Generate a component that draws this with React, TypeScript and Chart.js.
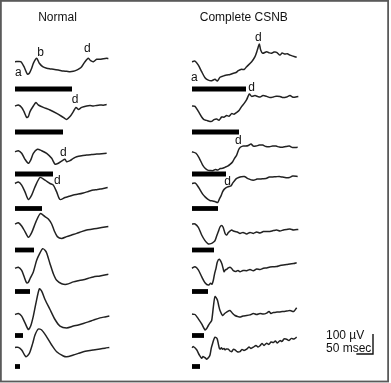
import React, { useEffect, useRef } from "react";
import { Chart, registerables } from "chart.js";

Chart.register(...registerables);

// ---- data: ERG traces, time (ms) vs amplitude (µV), relative to each trace's start ----
const normal1: [number, number][] = [[0,0],[17,0],[27,-25],[37,-62],[43,-58],[50,-33],[55,-8],[65,17],[73,-8],[83,-25],[95,-33],[105,-36],[115,-38],[130,-42],[145,-47],[155,-48],[165,-50],[175,-48],[185,-42],[193,-35],[200,-25],[210,0],[220,17],[227,5],[235,0],[245,12],[255,12],[265,15],[275,17],[280,15]];
const normal2: [number, number][] = [[0,0],[10,5],[20,-7],[27,-28],[35,-57],[40,-53],[45,-28],[55,0],[63,17],[70,5],[85,-7],[105,-20],[125,-37],[145,-57],[155,-67],[165,-53],[175,-28],[183,-7],[190,-17],[200,-7],[215,0],[225,2],[235,0],[245,3],[255,5],[265,4],[275,7]];
const normal3: [number, number][] = [[0,0],[10,5],[20,-8],[30,-38],[40,-58],[47,-42],[55,-8],[67,12],[80,5],[95,-8],[110,-33],[120,-62],[130,-58],[140,-47],[150,-38],[155,-50],[165,-45],[175,-33],[185,-25],[200,-20],[215,-17],[230,-14],[245,-12],[260,-10],[275,-8]];
const normal4: [number, number][] = [[0,0],[10,8],[20,-8],[30,-42],[40,-80],[50,-58],[60,-17],[75,30],[90,17],[105,0],[115,-8],[125,-42],[135,-80],[150,-70],[162,-64],[175,-58],[190,-53],[205,-47],[220,-40],[235,-33],[245,-31],[255,-28],[265,-25],[278,-20]];
const normal5: [number, number][] = [[0,0],[10,6],[20,-10],[30,-38],[40,-66],[50,-43],[63,12],[76,52],[90,37],[100,25],[110,0],[118,-35],[127,-63],[140,-72],[155,-63],[170,-55],[185,-47],[200,-38],[215,-30],[230,-26],[245,-22],[260,-18],[280,-13]];
const normal6: [number, number][] = [[0,0],[10,5],[20,-10],[27,-40],[35,-73],[40,-70],[45,-52],[55,-18],[65,40],[75,77],[83,98],[90,90],[95,77],[105,23],[115,-27],[125,-60],[140,-77],[155,-80],[175,-68],[190,-62],[205,-57],[220,-50],[235,-43],[255,-38],[280,-30]];
const normal7: [number, number][] = [[0,0],[10,5],[20,-8],[30,-42],[40,-75],[47,-58],[55,-8],[63,58],[73,128],[80,117],[90,75],[105,25],[120,-25],[135,-58],[155,-67],[175,-58],[190,-52],[205,-45],[220,-37],[235,-28],[255,-17],[270,-12],[283,-8]];
const normal8: [number, number][] = [[0,0],[10,0],[20,-13],[33,-47],[43,-30],[53,20],[60,62],[70,92],[80,87],[95,53],[110,12],[125,-22],[145,-43],[155,-47],[175,-38],[190,-30],[205,-22],[220,-17],[235,-13],[255,-8],[270,-4],[283,0]];

const csnb1: [number, number][] = [[0,0],[9,3],[19,-17],[29,-50],[39,-80],[49,-92],[59,-95],[69,-88],[76,-97],[84,-78],[93,-72],[104,-67],[114,-64],[124,-58],[132,-54],[139,-45],[149,-38],[156,-39],[164,-25],[179,0],[189,25],[196,58],[202,88],[206,58],[212,42],[224,50],[232,44],[239,42],[246,48],[254,47],[264,33],[270,43],[279,38],[286,40],[294,33],[303,28],[314,22]];
const csnb2: [number, number][] = [[0,0],[9,-2],[19,-27],[29,-55],[36,-68],[44,-72],[51,-76],[59,-77],[66,-68],[74,-65],[81,-71],[89,-55],[96,-56],[104,-48],[111,-51],[119,-38],[126,-41],[134,-32],[141,-23],[149,-2],[156,12],[164,32],[172,60],[179,48],[189,52],[198,47],[204,45],[213,52],[224,48],[234,42],[244,45],[252,49],[264,48],[273,42],[284,45],[294,52],[303,44],[319,48]];
const csnb3: [number, number][] = [[0,0],[12,-8],[22,-33],[32,-67],[40,-84],[47,-92],[55,-94],[62,-95],[70,-89],[77,-92],[85,-84],[92,-83],[100,-77],[107,-72],[115,-62],[122,-50],[128,-32],[134,-17],[142,17],[152,28],[162,28],[169,31],[177,38],[184,28],[192,28],[202,33],[212,33],[222,26],[232,25],[242,28],[252,28],[262,23],[272,22],[282,26],[292,28],[302,21],[317,22]];
const csnb4: [number, number][] = [[0,0],[10,2],[20,-20],[32,-53],[40,-68],[47,-78],[55,-86],[62,-87],[70,-91],[77,-95],[82,-78],[87,-62],[92,-41],[97,-28],[107,-17],[117,-12],[122,2],[127,13],[133,24],[140,30],[148,34],[157,35],[165,27],[172,22],[180,17],[187,17],[195,22],[202,22],[211,24],[222,25],[232,32],[242,33],[252,34],[262,35],[272,32],[282,29],[292,30],[302,37],[317,35]];
const csnb5: [number, number][] = [[0,0],[9,0],[19,-17],[29,-55],[39,-83],[49,-100],[59,-97],[65,-90],[69,-83],[74,-60],[79,-38],[84,-15],[89,-8],[93,-15],[96,-30],[100,-50],[104,-55],[108,-45],[112,-38],[119,-30],[124,-35],[129,-38],[136,-40],[144,-47],[153,-42],[164,-50],[174,-42],[184,-47],[194,-40],[204,-45],[214,-38],[224,-37],[234,-37],[244,-33],[254,-30],[264,-35],[274,-30],[285,-27],[294,-25],[305,-30],[319,-27]];
const csnb6: [number, number][] = [[0,0],[9,8],[19,-8],[29,-42],[39,-72],[49,-84],[56,-75],[60,-80],[64,-60],[68,-25],[72,0],[76,32],[82,45],[89,25],[93,2],[96,-17],[100,-8],[104,-5],[109,2],[114,5],[119,-1],[124,-12],[132,-16],[138,-11],[144,-17],[153,-11],[164,-12],[174,-6],[184,-12],[194,-3],[204,-6],[214,0],[224,2],[234,7],[244,8],[254,9],[264,14],[274,17],[284,19],[294,22],[305,24],[314,28]];
const csnb7: [number, number][] = [[0,2],[9,0],[19,-22],[29,-47],[39,-77],[44,-70],[49,-55],[54,-42],[59,-30],[64,37],[69,90],[76,73],[80,45],[84,20],[92,-5],[98,5],[104,12],[114,20],[122,5],[129,-5],[137,-10],[144,-13],[153,-7],[164,-5],[174,-2],[184,5],[194,0],[204,5],[214,2],[224,7],[231,15],[237,5],[244,10],[254,12],[264,13],[274,15],[284,17],[294,20],[305,15],[314,34]];
const csnb8: [number, number][] = [[0,-2],[4,4],[14,-12],[22,-38],[29,-54],[33,-45],[36,-49],[40,-52],[44,-59],[49,-52],[54,-38],[58,-2],[62,21],[66,42],[69,51],[73,48],[76,41],[79,18],[82,-4],[85,-8],[88,-2],[92,-9],[96,-5],[99,-12],[103,-8],[109,-9],[114,-18],[119,-21],[124,-10],[129,-12],[136,-22],[144,-21],[150,-10],[156,-15],[164,-9],[171,2],[177,-5],[184,1],[192,10],[198,2],[204,8],[210,20],[216,10],[224,21],[231,15],[237,27],[244,24],[250,32],[256,22],[264,34],[270,30],[276,42],[284,41],[291,35],[298,45],[306,42],[314,51]];

// stimulus durations (ms) per row
const normalStimMs = [171, 144, 114, 81, 57, 45, 24, 15];
const csnbStimMs = [162, 141, 102, 78, 66, 48, 36, 24];

// component labels: [column, row, text, time ms, µV]
const peakLabels: [number, number, string, number, number][] = [
  [0, 0, "a", 10, -55], [0, 0, "b", 77, 47], [0, 0, "d", 217, 63],
  [0, 1, "d", 180, 33], [0, 2, "d", 145, -5], [0, 3, "d", 127, 14],
  [1, 0, "a", 7, -80], [1, 0, "d", 199, 120], [1, 1, "d", 179, 93],
  [1, 2, "d", 139, 55], [1, 3, "d", 107, 9],
];
const columnTitles = ["Normal", "Complete CSNB"];
const scaleBarUv = 100;
const scaleBarMs = 50;

// ---- layout (pixels / scaling) ----
const W = 391, H = 383;
const MS_PER_PX = 3;
const UV_PER_PX = 5;
const LEFT_PX = 15;
const COL_START_PX = [15, 192];
const ROW_BASE_PX = [61.7, 106, 151.7, 183.5, 224, 268.3, 314.5, 347.4];
const BAR_PX = [89, 132, 174, 208.5, 250, 291.5, 335.5, 366.5];
const TITLE_X_PX = [57.5, 243.8];

const xOf = (col: number, t: number) => (COL_START_PX[col] - LEFT_PX) * MS_PER_PX + t;
const yOfPx = (px: number) => -px * UV_PER_PX;
const yOf = (row: number, v: number) => yOfPx(ROW_BASE_PX[row]) + v;

export default function App() {
  const ref = useRef<HTMLCanvasElement | null>(null);
  useEffect(() => {
    if (!ref.current) return;
    const traces = [
      [normal1, normal2, normal3, normal4, normal5, normal6, normal7, normal8],
      [csnb1, csnb2, csnb3, csnb4, csnb5, csnb6, csnb7, csnb8],
    ];
    const stims = [normalStimMs, csnbStimMs];
    const datasets: any[] = [];
    traces.forEach((col, c) =>
      col.forEach((tr, r) => {
        datasets.push({
          data: tr.map(([t, v]) => ({ x: xOf(c, t), y: yOf(r, v) })),
          borderColor: "#222",
          borderWidth: 1.5,
          pointRadius: 0,
          tension: 0.25,
          fill: false,
        });
      })
    );
    stims.forEach((col, c) =>
      col.forEach((dur, r) => {
        datasets.push({
          data: [
            { x: xOf(c, 0), y: yOfPx(BAR_PX[r]) },
            { x: xOf(c, dur), y: yOfPx(BAR_PX[r]) },
          ],
          borderColor: "#000",
          borderWidth: 4.8,
          borderCapStyle: "butt",
          pointRadius: 0,
          fill: false,
        });
      })
    );
    // scale bars
    const sbX = 373 * MS_PER_PX - LEFT_PX * MS_PER_PX;
    const sbY = yOfPx(354);
    datasets.push({
      data: [
        { x: sbX - scaleBarMs, y: sbY },
        { x: sbX, y: sbY },
        { x: sbX, y: sbY + scaleBarUv },
      ],
      borderColor: "#111",
      borderWidth: 1.4,
      pointRadius: 0,
      fill: false,
    });

    const overlay = {
      id: "overlay",
      afterDraw(chart: any) {
        const { ctx, scales } = chart;
        const x = scales.x, y = scales.y;
        ctx.save();
        ctx.strokeStyle = "#5a5a5a";
        ctx.lineWidth = 1.8;
        ctx.strokeRect(0.9, 0.9, 387.2, 380.6);
        ctx.fillStyle = "#111";
        ctx.font = '12px "Liberation Sans", Arial, sans-serif';
        ctx.textAlign = "center";
        ctx.textBaseline = "middle";
        columnTitles.forEach((t, i) => ctx.fillText(t, TITLE_X_PX[i], 17.5));
        peakLabels.forEach(([c, r, txt, t, v]) => {
          ctx.fillText(txt, x.getPixelForValue(xOf(c, t)), y.getPixelForValue(yOf(r, v)));
        });
        ctx.textAlign = "left";
        ctx.fillText(`${scaleBarUv} \u00b5V`, 326, 336);
        ctx.fillText(`${scaleBarMs} msec`, 326, 349);
        ctx.restore();
      },
    };

    const chart = new Chart(ref.current, {
      type: "line",
      data: { datasets },
      options: {
        animation: false,
        responsive: false,
        maintainAspectRatio: false,
        layout: { padding: 0 },
        plugins: { legend: { display: false }, tooltip: { enabled: false } },
        scales: {
          x: { type: "linear", display: false, min: -LEFT_PX * MS_PER_PX, max: (W - LEFT_PX) * MS_PER_PX },
          y: { type: "linear", display: false, min: -H * UV_PER_PX, max: 0 },
        },
      },
      plugins: [overlay],
    } as any);
    return () => chart.destroy();
  }, []);
  return (
    <div style={{ position: "fixed", left: 0, top: 0, width: W, height: H, background: "#fff" }}>
      <canvas ref={ref} width={W} height={H} />
    </div>
  );
}
